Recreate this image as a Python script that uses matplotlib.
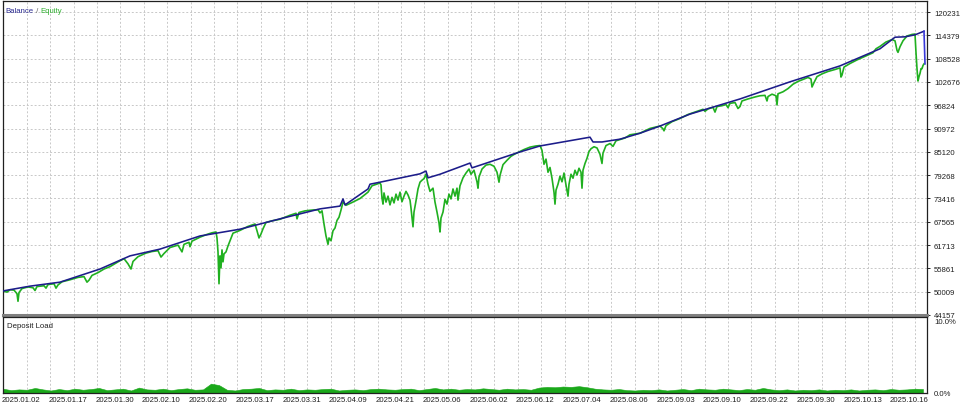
import numpy as np
import matplotlib
matplotlib.use('Agg')
from matplotlib import pyplot as plt

plt.rcParams['font.family'] = ['Liberation Sans Narrow', 'Liberation Sans', 'DejaVu Sans']

# bar index (time axis of the tester) and balance
bal_x = [3, 30, 60, 100, 130, 160, 200, 240, 280, 320, 340, 343, 345, 368, 370, 380, 420,
         426, 428, 440, 470, 472, 520, 540, 590, 593, 602, 620, 640, 660, 690, 740, 790,
         840, 880, 895, 905, 915, 924, 925]
bal_v = [50200, 51400, 52400, 55700, 59000, 60700, 64000, 65700, 68300, 70800, 71500, 73300,
         71800, 75800, 77000, 77500, 79600, 80300, 78600, 79500, 82300, 81100, 85100, 86600,
         88800, 87600, 87600, 88300, 89800, 91600, 94600, 98400, 102700, 106700, 111000,
         113900, 114000, 114500, 115400, 107200]

eq_x = [3, 7, 10, 14, 17, 18, 19, 22, 28, 33, 35, 37, 44, 46, 48, 54, 56, 58, 62, 70, 78, 84,
        87, 89, 92, 98, 104, 110, 118, 124, 128, 131, 133, 138, 146, 152, 158, 161, 164, 170,
        178, 182, 184, 189, 190, 192, 200, 206, 212, 216, 217, 218, 219, 220, 221, 222, 223,
        224, 226, 228, 230, 233, 240, 248, 255, 257, 259, 261, 263, 266, 272, 280, 290, 296,
        297, 299, 305, 312, 318, 320, 322, 324, 326, 328, 329, 331, 333, 335, 337, 339, 341,
        343, 346, 352, 360, 368, 372, 380, 381, 382, 383, 384, 386, 388, 390, 392, 394, 396,
        398, 400, 402, 404, 406, 408, 410, 411, 413, 414, 416, 418, 420, 422, 424, 426, 428,
        430, 433, 435, 437, 439, 440, 441, 443, 445, 447, 449, 451, 453, 455, 457, 458, 460,
        463, 466, 469, 471, 474, 477, 478, 479, 482, 486, 490, 494, 497, 499, 500, 503, 507,
        511, 515, 519, 524, 530, 536, 540, 542, 544, 546, 548, 550, 552, 554, 555, 556, 558,
        560, 562, 564, 566, 568, 569, 571, 573, 575, 577, 579, 581, 582, 583, 585, 587, 589,
        591, 594, 597, 600, 602, 603, 606, 610, 613, 616, 620, 625, 630, 635, 640, 645, 650,
        655, 660, 663, 664, 666, 672, 680, 688, 696, 703, 705, 708, 713, 715, 717, 722, 726,
        728, 730, 735, 738, 740, 742, 748, 755, 760, 765, 767, 768, 772, 776, 777, 778, 783,
        788, 793, 798, 803, 808, 811, 812, 814, 817, 822, 828, 835, 840, 841, 842, 844, 850,
        857, 864, 870, 873, 876, 880, 886, 892, 895, 897, 898, 900, 903, 907, 912, 915, 916,
        917, 918, 919, 920, 921, 922, 923, 924]
eq_v = [50200, 49900, 50500, 50400, 49500, 47600, 49800, 50800, 51200, 51000, 50300, 51300,
        51500, 50900, 51800, 52000, 50900, 51700, 52500, 53000, 53600, 53800, 52400, 52900,
        54100, 54800, 55700, 56300, 57500, 58300, 57000, 55700, 57600, 58800, 59700, 60100,
        60300, 58700, 59600, 61100, 61700, 60000, 61900, 62400, 61300, 62700, 63700, 64300,
        64800, 65000, 63500, 60000, 52000, 59000, 56000, 60500, 57500, 59500, 60000, 61500,
        62800, 64700, 65400, 66400, 67000, 65300, 63500, 64500, 65800, 67400, 67800, 68200,
        69200, 69700, 68300, 69900, 70300, 70500, 70600, 69800, 70300, 67000, 64000, 61900,
        63500, 62800, 65300, 66000, 67900, 68700, 70500, 72500, 71700, 72400, 73400, 75000,
        76600, 77300, 76800, 73500, 72000, 74800, 72500, 74000, 71800, 73700, 72300, 74500,
        73000, 75000, 72600, 74000, 75200, 74300, 73000, 71000, 66300, 70000, 72800, 75800,
        77500, 78000, 78400, 79500, 77000, 75200, 76000, 72500, 70000, 67300, 65000, 68500,
        70000, 73200, 72000, 74500, 73300, 75800, 74000, 76000, 73000, 76600, 78600, 79800,
        80800, 79500, 80500, 77600, 76000, 78800, 80800, 81800, 82000, 81500, 80000, 77500,
        79200, 81900, 83000, 84000, 84600, 85100, 85700, 86300, 86600, 86700, 85500, 82000,
        83300, 80000, 81200, 78500, 75000, 72000, 75500, 77000, 79000, 77600, 79800, 76800,
        74000, 77000, 79500, 78500, 80500, 79300, 81000, 80000, 76000, 80500, 82200, 83500,
        85200, 85900, 86400, 86100, 84500, 82200, 84800, 86700, 87200, 86500, 87900, 88200,
        88600, 89400, 89600, 89800, 90400, 91000, 91300, 91600, 90900, 90400, 91700, 92700,
        93500, 94500, 95200, 95800, 95300, 95900, 96300, 95100, 96500, 96700, 97000, 96200,
        97300, 97500, 96000, 96500, 97900, 98400, 98900, 99200, 99300, 97900, 99000, 99600,
        99200, 96900, 99700, 100200, 101000, 102100, 102800, 103300, 103800, 103400, 101400,
        102500, 104000, 104700, 105300, 105800, 106200, 103900, 104400, 106400, 107300,
        108200, 109000, 109700, 110000, 111000, 111600, 112700, 113300, 113000, 110600,
        110100, 111500, 113000, 114200, 114600, 114700, 110000, 106000, 102900, 104000,
        104800, 106000, 106000, 106800, 107200]

load_x = list(range(3, 931, 8))
load_v = [0.6, 0.4, 0.5, 0.45, 0.7, 0.5, 0.35, 0.55, 0.4, 0.6, 0.45, 0.55, 0.7, 0.4, 0.5, 0.6,
          0.35, 0.75, 0.5, 0.45, 0.6, 0.4, 0.55, 0.65, 0.45, 0.5, 1.3, 1.1, 0.45, 0.35, 0.55,
          0.6, 0.7, 0.4, 0.5, 0.45, 0.6, 0.4, 0.5, 0.45, 0.55, 0.6, 0.35, 0.45, 0.5, 0.4, 0.55,
          0.6, 0.5, 0.45, 0.55, 0.6, 0.4, 0.55, 0.7, 0.5, 0.6, 0.45, 0.55, 0.5, 0.65, 0.55,
          0.45, 0.6, 0.5, 0.55, 0.45, 0.75, 0.85, 0.8, 0.9, 0.85, 0.95, 0.8, 0.6, 0.5, 0.45,
          0.55, 0.4, 0.35, 0.45, 0.4, 0.5, 0.35, 0.45, 0.55, 0.4, 0.6, 0.5, 0.45, 0.6, 0.5,
          0.4, 0.55, 0.45, 0.7, 0.5, 0.4, 0.5, 0.35, 0.45, 0.4, 0.5, 0.35, 0.45, 0.4, 0.5,
          0.35, 0.45, 0.5, 0.4, 0.55, 0.45, 0.5, 0.6, 0.55]

dates = ['2025.01.02', '2025.01.17', '2025.01.30', '2025.02.10', '2025.02.20', '2025.03.17',
         '2025.03.31', '2025.04.09', '2025.04.21', '2025.05.06', '2025.06.02', '2025.06.12',
         '2025.07.04', '2025.08.06', '2025.09.03', '2025.09.10', '2025.09.22', '2025.09.30',
         '2025.10.13', '2025.10.16']
y_ticks = [44157, 50009, 55861, 61713, 67565, 73416, 79268, 85120, 90972, 96824, 102676,
           108528, 114379, 120231]

W, H = 960, 406
fig = plt.figure(figsize=(W / 100, H / 100), dpi=100)
fig.patch.set_facecolor('white')

def px_rect(x0, y0, x1, y1):
    return [x0 / W, 1 - y1 / H, (x1 - x0) / W, (y1 - y0) / H]

ax = fig.add_axes(px_rect(3, 2, 927, 316))
ax2 = fig.add_axes(px_rect(3, 318, 927, 394))

grid_x = np.arange(27, 927, 23.37)
label_x = 21 + 46.75 * np.arange(len(dates))
grid_kw = dict(color='#c8c8c8', lw=0.7, ls=(0, (2, 2)))
fs = 5.6

for a in (ax, ax2):
    a.set_xlim(3, 927)
    for gx in grid_x:
        a.axvline(gx, zorder=0, **grid_kw)
    for s in ('left', 'right', 'top', 'bottom'):
        a.spines[s].set_color('#202020')
        a.spines[s].set_linewidth(0.9)

# main panel
ax.set_ylim(44157, 44157 + 314 * (120231 - 44157) / 303)
for yv in y_ticks[1:]:
    ax.axhline(yv, zorder=0, **grid_kw)
ax.plot(eq_x, eq_v, color='#20b020', lw=1.2, zorder=2)
ax.plot(bal_x[:-1], bal_v[:-1], color='#1c1c8a', lw=1.15, zorder=3)
ax.plot(bal_x[-2:], bal_v[-2:], color='#3838d8', lw=1.2, zorder=3)
ax.yaxis.tick_right()
ax.set_yticks(y_ticks)
ax.set_yticklabels([str(v) for v in y_ticks], fontsize=fs, color='#202020')
ax.tick_params(axis='y', length=2, width=0.6, pad=3)
ax.set_xticks([])
ax.spines['bottom'].set_color('#808080')
ax.spines['bottom'].set_linewidth(2.2)

t1 = ax.text(0.003, 0.98, 'Balance', color='#2a2a90', fontsize=fs, transform=ax.transAxes, va='top')
t2 = ax.annotate(' / ', xy=(1, 0), xycoords=t1, va='bottom', color='#606060', fontsize=fs)
ax.annotate('Equity', xy=(1, 0), xycoords=t2, va='bottom', color='#30b030', fontsize=fs)

# deposit load panel
ax2.set_ylim(0, 10 * 76 / 72)
ax2.fill_between(load_x, 0, load_v, color='#1aa81a', lw=0.4, edgecolor='#1aa81a', zorder=2)
ax2.yaxis.tick_right()
ax2.set_yticks([0, 10])
ax2.set_yticklabels(['0.0%', '10.0%'], fontsize=fs, color='#202020')
ax2.tick_params(axis='y', length=0, pad=5)
ax2.set_xticks(label_x)
ax2.set_xticklabels(dates, fontsize=fs, color='#202020')
ax2.tick_params(axis='x', length=0, pad=2)
ax2.text(0.004, 0.93, 'Deposit Load', color='#202020', fontsize=fs, transform=ax2.transAxes, va='top')

fig.savefig('out.png', dpi=100)
